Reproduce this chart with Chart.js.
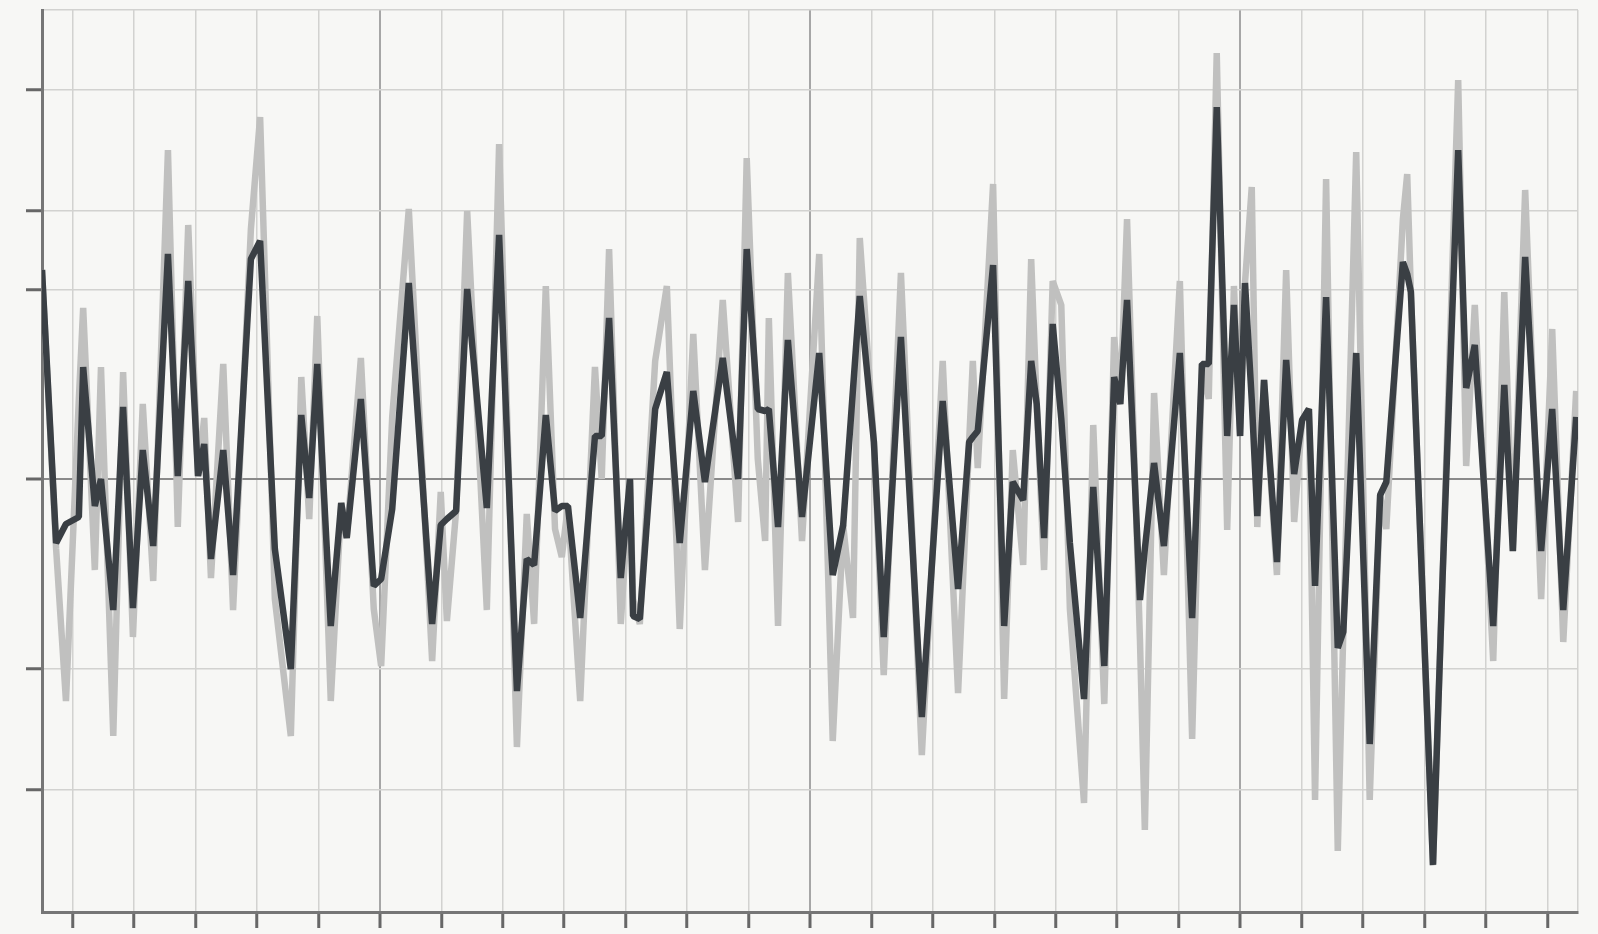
<!DOCTYPE html>
<html>
<head>
<meta charset="utf-8">
<title>Signal trace</title>
<script src="https://cdn.jsdelivr.net/npm/chart.js@4.4.1/dist/chart.umd.min.js"></script>
<style>
    body { margin: 0; background: #f7f7f5; }
    canvas { display: block; }
</style>
</head>
<body>
<canvas id="traceChart" width="1598" height="934"></canvas>
<script>
// sample positions (in tick intervals, 0..25)
const samplePos = [
    0, 0.23, 0.39, 0.60, 0.67, 0.86, 0.96, 1.16, 1.32, 1.48,
    1.64, 1.81, 2.05, 2.21, 2.38, 2.54, 2.64, 2.75, 2.95, 3.11,
    3.40, 3.55, 3.79, 4.05, 4.22, 4.35, 4.48, 4.70, 4.87, 4.96,
    5.19, 5.40, 5.52, 5.70, 5.97, 6.35, 6.49, 6.59, 6.74, 6.92,
    7.24, 7.44, 7.73, 7.89, 8.01, 8.20, 8.35, 8.46, 8.56, 8.76,
    9.00, 9.11, 9.23, 9.42, 9.57, 9.62, 9.73, 9.98, 10.17, 10.38,
    10.60, 10.79, 11.08, 11.33, 11.47, 11.65, 11.77, 11.83, 11.98, 12.14,
    12.37, 12.65, 12.87, 13.04, 13.20, 13.31, 13.54, 13.70, 13.98, 14.32,
    14.66, 14.91, 15.09, 15.15, 15.23, 15.48, 15.66, 15.80, 15.97, 16.10,
    16.19, 16.31, 16.45, 16.59, 16.73, 16.96, 17.11, 17.29, 17.45, 17.55,
    17.66, 17.87, 17.95, 18.10, 18.26, 18.52, 18.72, 18.88, 18.99, 19.12,
    19.29, 19.40, 19.50, 19.58, 19.69, 19.78, 19.89, 20.10, 20.25, 20.38,
    20.51, 20.62, 20.72, 20.90, 21.09, 21.18, 21.39, 21.61, 21.78, 21.88,
    22.15, 22.22, 22.28, 22.64, 22.80, 23.05, 23.18, 23.32, 23.62, 23.80,
    23.94, 24.14, 24.40, 24.58, 24.76, 24.97
];

// smoothed signal (dark)
const smoothSignal = [
    2.09, -0.64, -0.45, -0.38, 1.12, -0.27, 0.00, -1.31, 0.72, -1.29,
    0.29, -0.67, 2.25, 0.03, 1.98, 0.03, 0.35, -0.80, 0.29, -0.96,
    2.20, 2.38, -0.70, -1.90, 0.64, -0.19, 1.15, -1.47, -0.24, -0.59,
    0.80, -1.07, -1.00, -0.30, 1.96, -1.45, -0.46, -0.40, -0.32, 1.90,
    -0.29, 2.44, -2.12, -0.80, -0.86, 0.64, -0.32, -0.27, -0.27, -1.39,
    0.43, 0.43, 1.61, -0.99, 0.00, -1.37, -1.40, 0.70, 1.07, -0.64,
    0.88, -0.03, 1.21, 0.00, 2.30, 0.70, 0.68, 0.70, -0.48, 1.39,
    -0.38, 1.26, -0.96, -0.46, 0.90, 1.83, 0.37, -1.58, 1.42, -2.38,
    0.78, -1.10, 0.37, 0.42, 0.48, 2.14, -1.47, -0.03, -0.21, 1.18,
    0.75, -0.59, 1.55, 0.60, -0.64, -2.20, -0.08, -1.87, 1.02, 0.75,
    1.79, -1.21, -0.70, 0.16, -0.67, 1.26, -1.39, 1.15, 1.15, 3.72,
    0.43, 1.74, 0.43, 1.96, 0.79, -0.37, 0.99, -0.83, 1.19, 0.05,
    0.59, 0.70, -1.07, 1.82, -1.69, -1.53, 1.26, -2.65, -0.16, -0.03,
    2.17, 2.05, 1.87, -3.86, -0.91, 3.29, 0.91, 1.34, -1.47, 0.94,
    -0.72, 2.22, -0.72, 0.70, -1.31, 0.62
];

// raw signal (light)
const rawSignal = [
    2.09, -0.70, -2.22, 0.80, 1.71, -0.91, 1.12, -2.57, 1.07, -1.58,
    0.75, -1.02, 3.29, -0.48, 2.54, 0.03, 0.61, -0.99, 1.15, -1.31,
    2.50, 3.62, -1.20, -2.57, 1.02, -0.40, 1.63, -2.22, -0.24, -0.59,
    1.21, -1.30, -1.87, 0.62, 2.70, -1.82, -0.13, -1.42, -0.32, 2.68,
    -1.31, 3.35, -2.68, -0.35, -1.45, 1.93, -0.50, -0.78, -0.27, -2.22,
    1.12, 0.00, 2.30, -1.45, 0.00, -1.20, -1.45, 1.18, 1.93, -1.50,
    1.45, -0.91, 1.79, -0.43, 3.21, 0.20, -0.62, 1.61, -1.47, 2.06,
    -0.62, 2.25, -2.62, -0.46, -1.39, 2.41, 0.37, -1.96, 2.06, -2.76,
    1.18, -2.14, 0.37, 1.18, 0.11, 2.95, -2.20, 0.29, -0.86, 2.20,
    0.75, -0.91, 1.98, 1.74, -1.30, -3.24, 0.54, -2.25, 1.42, 0.75,
    2.60, -1.60, -3.51, 0.86, -0.96, 1.98, -2.60, 1.15, 0.80, 4.26,
    -0.51, 1.93, 0.43, 1.96, 2.92, -0.48, 0.99, -0.96, 2.09, -0.43,
    0.59, 0.70, -3.21, 3.00, -3.72, -1.53, 3.27, -3.21, -0.16, -0.50,
    2.60, 3.05, 1.87, -3.86, -0.91, 3.99, 0.13, 1.74, -1.82, 1.87,
    -0.72, 2.89, -1.20, 1.50, -1.63, 0.88
];

// axis ticks
const xTickValues = [0, 0.5, 1.5, 2.5, 3.5, 4.5, 5.5, 6.5, 7.5, 8.5, 9.5, 10.5, 11.5, 12.5,
    13.5, 14.5, 15.5, 16.5, 17.5, 18.5, 19.5, 20.5, 21.5, 22.5, 23.5, 24.5, 25];
const majorXTicks = [5.5, 12.5, 19.5];
const yTickValues = [-4.33, -3.11, -1.90, 0, 1.89, 2.68, 3.89, 4.69];

const xMin = 0, xMax = 25;
const yMin = -4.33, yMax = 4.69;

let toPoints = (values) => values.map((v, i) => ({ x: samplePos[i], y: v }));

let isEdge = (scale, value) => value === scale.min || value === scale.max;

let gridColorX = (ctx) => {
    let value = ctx.tick ? ctx.tick.value : null;
    if (majorXTicks.includes(value)) return '#a6a6a6';
    return '#d2d2d0';
};

let gridColorY = (ctx) => {
    let value = ctx.tick ? ctx.tick.value : null;
    if (value === 0) return '#8a8a8a';
    return '#d2d2d0';
};

let tickMarkColor = (ctx) => {
    if (!ctx.tick || isEdge(ctx.scale, ctx.tick.value)) return 'rgba(0,0,0,0)';
    return '#676767';
};

var ctx = document.getElementById('traceChart').getContext('2d');
var traceChart = new Chart(ctx, {
    type: 'line',
    data: {
        datasets: [{
            label: 'smoothed',
            data: toPoints(smoothSignal),
            borderColor: '#3a3f44',
            borderWidth: 6.5,
            borderJoinStyle: 'bevel',
            pointRadius: 0,
            tension: 0,
            order: 0
        }, {
            label: 'raw',
            data: toPoints(rawSignal),
            borderColor: '#c0c0bf',
            borderWidth: 6.5,
            borderJoinStyle: 'bevel',
            pointRadius: 0,
            tension: 0,
            order: 1
        }]
    },
    options: {
        responsive: false,
        animation: false,
        layout: { padding: { top: 10, right: 20, left: 0, bottom: 0 } },
        plugins: {
            legend: { display: false },
            tooltip: { enabled: false }
        },
        scales: {
            x: {
                type: 'linear',
                min: xMin,
                max: xMax,
                afterBuildTicks: (scale) => { scale.ticks = xTickValues.map(v => ({ value: v })); },
                afterFit: (scale) => { scale.height = 22; },
                ticks: { display: false },
                grid: {
                    color: gridColorX,
                    lineWidth: (c) => (c.tick && majorXTicks.includes(c.tick.value)) ? 2 : 1.5,
                    drawTicks: true,
                    tickLength: 16,
                    tickWidth: 3,
                    tickColor: tickMarkColor
                },
                border: { display: true, color: '#767676', width: 3 }
            },
            y: {
                type: 'linear',
                min: yMin,
                max: yMax,
                afterBuildTicks: (scale) => { scale.ticks = yTickValues.map(v => ({ value: v })); },
                afterFit: (scale) => { scale.width = 42; },
                ticks: { display: false },
                grid: {
                    color: gridColorY,
                    lineWidth: (c) => (c.tick && c.tick.value === 0) ? 2 : 1.5,
                    drawTicks: true,
                    tickLength: 16,
                    tickWidth: 3,
                    tickColor: tickMarkColor
                },
                border: { display: true, color: '#767676', width: 3 }
            }
        }
    }
});
</script>
</body>
</html>
